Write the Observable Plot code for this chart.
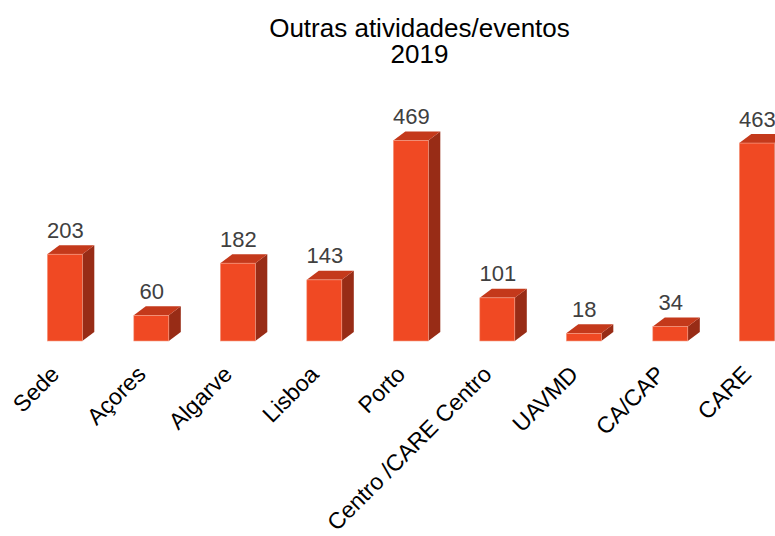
<!DOCTYPE html>
<html>
<head>
<meta charset="utf-8">
<script src="https://cdn.jsdelivr.net/npm/d3@7"></script>
<script src="https://cdn.jsdelivr.net/npm/@observablehq/plot@0.6"></script>
<style>
  html, body { margin: 0; padding: 0; background: #fff; overflow: hidden; }
  body { width: 775px; height: 536px; font-family: "Liberation Sans", Arial, sans-serif; }
  #title { box-sizing: border-box; width: 775px; height: 70px; padding-top: 15px; padding-left: 64px;
           text-align: center; font-size: 26px; line-height: 26px; color: #000; }
  #chart svg { overflow: hidden; display: block; }
</style>
</head>
<body>
<div id="title">Outras atividades/eventos<br>2019</div>
<div id="chart"></div>
<script>
const categories = ["Sede", "Açores", "Algarve", "Lisboa", "Porto", "Centro /CARE Centro", "UAVMD", "CA/CAP", "CARE"];
const values = [203, 60, 182, 143, 469, 101, 18, 34, 463];

const FRONT = "#f04923";
const TOPC = "#c4391b";
const SIDE = "#982c16";

// geometry in data units (derived from the scales below)
const step = 86.5;          // px per category
const pxPerUnit = 200.5 / 469;
const hw = 17.5 / step;     // half bar width
const ddx = 12 / step;      // depth offset x
const ddy = 9 / pxPerUnit;  // depth offset y

const bars = categories.map((name, i) => ({i, name, value: values[i]}));
const sideFaces = bars.flatMap(d => [
  {i: d.i, x: d.i + hw, y1: 0, y2: d.value},
  {i: d.i, x: d.i + hw + ddx, y1: ddy, y2: d.value + ddy}
]);
const topFaces = bars.flatMap(d => [
  {i: d.i, y: d.value, x1: d.i - hw, x2: d.i + hw},
  {i: d.i, y: d.value + ddy, x1: d.i - hw + ddx, x2: d.i + hw + ddx}
]);

const plot = Plot.plot({
  width: 775,
  height: 466,
  margin: 0,
  style: {fontFamily: "'Liberation Sans', Arial, sans-serif", background: "#fff", overflow: "hidden"},
  x: {domain: [0, 8], range: [64.8, 64.8 + 8 * step], axis: null},
  y: {domain: [0, 469], range: [271, 271 - 200.5], axis: null},
  marks: [
    Plot.areaY(sideFaces, {x: "x", y1: "y1", y2: "y2", z: "i", fill: SIDE, curve: "linear"}),
    Plot.areaX(topFaces, {y: "y", x1: "x1", x2: "x2", z: "i", fill: TOPC, curve: "linear"}),
    Plot.rectY(bars, {x1: d => d.i - hw, x2: d => d.i + hw, y1: 0, y2: "value", fill: FRONT,
                      stroke: "#f6a089", strokeWidth: 0.6}),
    Plot.text(bars, {x: "i", y: "value", text: d => String(d.value), dy: -24, fontSize: 22, fill: "#404040"}),
    Plot.text(bars, {x: "i", y: () => 0, text: "name", rotate: -45, textAnchor: "end",
                     dx: -10, dy: 29, fontSize: 23, fill: "#000"})
  ]
});
document.getElementById("chart").appendChild(plot);
</script>
</body>
</html>
